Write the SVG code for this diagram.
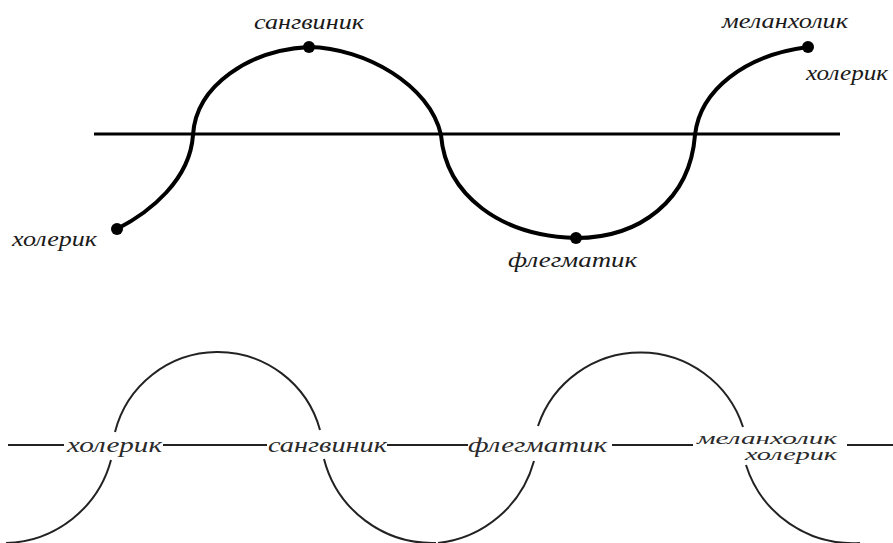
<svg xmlns="http://www.w3.org/2000/svg" width="893" height="543" viewBox="0 0 893 543">
  <style>
    .lbl { font-family: "Liberation Serif", "DejaVu Serif", serif; font-style: italic; font-size: 20px; fill: #1a1a1a; }
    .lbl2 { font-family: "Liberation Serif", "DejaVu Serif", serif; font-style: italic; font-size: 20px; fill: #2a2a2a; }
    .lbl3 { font-family: "Liberation Serif", "DejaVu Serif", serif; font-style: italic; font-size: 16px; fill: #2a2a2a; }
    .axis { stroke: #000; stroke-width: 3; fill: none; }
    .wave { stroke: #000; stroke-width: 4; fill: none; stroke-linecap: round; }
    .thin { stroke: #222; stroke-width: 2; fill: none; }
    .dot { fill: #000; }
  </style>
  <rect width="893" height="543" fill="#fff"/>

  <g id="connectors">
    <line class="axis" x1="94" y1="134" x2="840" y2="134"/>
    <path class="wave" d="M117,229 C150,212 190,180 193,135 C196,85 250,50 309,47 C365,48 430,85 441,135 C446,195 500,236 576,238 C640,238 690,200 695,135 C700,90 745,55 808,47"/>
    <line class="thin" x1="8" y1="445" x2="64" y2="445"/>
    <line class="thin" x1="163" y1="445" x2="267" y2="445"/>
    <line class="thin" x1="387" y1="445" x2="468" y2="445"/>
    <line class="thin" x1="612" y1="445" x2="693" y2="445"/>
    <line class="thin" x1="847" y1="445" x2="893" y2="445"/>
    <path class="thin" d="M115,432 A106,106 0 0 1 320,430"/>
    <path class="thin" d="M538,426 A108,108 0 0 1 743,427"/>
    <path class="thin" d="M111,460 A112,112 0 0 1 6,543"/>
    <path class="thin" d="M324,459 A112,112 0 0 0 436,543"/>
    <path class="thin" d="M534,461 A112,112 0 0 1 438,543"/>
    <path class="thin" d="M746,465 A112,112 0 0 0 860,543"/>
  </g>

  <g id="top-choleric-start">
    <circle class="dot" cx="117" cy="229" r="6"/>
    <text class="lbl" x="12" y="246" textLength="85" lengthAdjust="spacingAndGlyphs">холерик</text>
  </g>
  <g id="top-sanguine">
    <circle class="dot" cx="309" cy="47" r="6"/>
    <text class="lbl" x="254" y="29" textLength="110" lengthAdjust="spacingAndGlyphs">сангвиник</text>
  </g>
  <g id="top-phlegmatic">
    <circle class="dot" cx="576" cy="238" r="6"/>
    <text class="lbl" x="508" y="267" textLength="129" lengthAdjust="spacingAndGlyphs">флегматик</text>
  </g>
  <g id="top-melancholic">
    <circle class="dot" cx="808" cy="47" r="6"/>
    <text class="lbl" x="722" y="28" textLength="126" lengthAdjust="spacingAndGlyphs">меланхолик</text>
    <text class="lbl" x="806" y="80" textLength="82" lengthAdjust="spacingAndGlyphs">холерик</text>
  </g>

  <g id="bottom-choleric">
    <text class="lbl2" x="67" y="452" textLength="95" lengthAdjust="spacingAndGlyphs">холерик</text>
  </g>
  <g id="bottom-sanguine">
    <text class="lbl2" x="268" y="452" textLength="119" lengthAdjust="spacingAndGlyphs">сангвиник</text>
  </g>
  <g id="bottom-phlegmatic">
    <text class="lbl2" x="468" y="452" textLength="139" lengthAdjust="spacingAndGlyphs">флегматик</text>
  </g>
  <g id="bottom-melancholic-choleric">
    <text class="lbl3" x="697" y="444" textLength="140" lengthAdjust="spacingAndGlyphs">меланхолик</text>
    <text class="lbl3" x="745" y="460" textLength="92" lengthAdjust="spacingAndGlyphs">холерик</text>
  </g>
</svg>
